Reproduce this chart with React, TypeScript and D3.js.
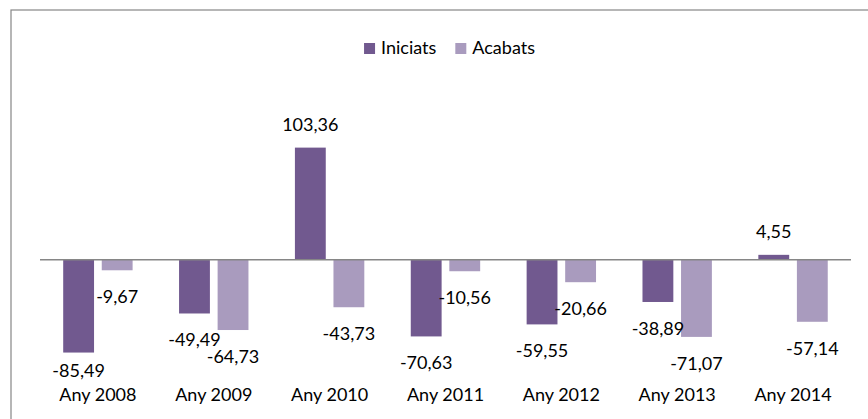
import * as d3 from "d3";
import React, { useEffect, useRef } from "react";

const years = ["Any 2008", "Any 2009", "Any 2010", "Any 2011", "Any 2012", "Any 2013", "Any 2014"];
const seriesNames = ["Iniciats", "Acabats"];
const iniciats = [-85.49, -49.49, 103.36, -70.63, -59.55, -38.89, 4.55];
const acabats = [-9.67, -64.73, -43.73, -10.56, -20.66, -71.07, -57.14];
const seriesColors = ["#71598F", "#A99BBE"];

interface Datum {
  year: string;
  series: string;
  value: number;
}

const App: React.FC = () => {
  const svgRef = useRef<SVGSVGElement>(null);

  useEffect(() => {
    const svg = d3.select(svgRef.current);
    svg.selectAll("*").remove();
    const font = "Lato, 'Open Sans', sans-serif";

    // 外枠
    svg.append("rect")
      .attr("x", 11).attr("y", 10)
      .attr("width", 900).attr("height", 450)
      .attr("fill", "#fff")
      .attr("stroke", "#868686")
      .attr("stroke-width", 1.2);

    const x0 = d3.scaleBand().domain(years).range([40, 851]);
    const x1 = d3.scaleBand().domain(seriesNames).range([23.2, 92.6]).paddingInner(0.2);
    const y = d3.scaleLinear().domain([150, -120]).range([97, 390]);
    const color = d3.scaleOrdinal<string>().domain(seriesNames).range(seriesColors);
    // hyphen minus + decimal comma
    const fmt = (v: number) => v.toFixed(2).replace(".", ",");

    const data: Datum[][] = years.map((yr, i) => [
      { year: yr, series: seriesNames[0], value: iniciats[i] },
      { year: yr, series: seriesNames[1], value: acabats[i] },
    ]);

    const groups = svg.append("g")
      .selectAll("g")
      .data(data)
      .enter()
      .append("g")
      .attr("transform", (d) => `translate(${x0(d[0].year)},0)`);

    groups.selectAll("rect")
      .data((d) => d)
      .enter()
      .append("rect")
      .attr("x", (d) => x1(d.series)!)
      .attr("y", (d) => y(Math.max(0, d.value)))
      .attr("width", x1.bandwidth())
      .attr("height", (d) => Math.abs(y(d.value) - y(0)))
      .attr("fill", (d) => color(d.series));

    // 0 line
    svg.append("line")
      .attr("x1", 40).attr("x2", 851)
      .attr("y1", y(0)).attr("y2", y(0))
      .attr("stroke", "#868686")
      .attr("stroke-width", 1.5);

    // data labels
    groups.selectAll("text")
      .data((d) => d)
      .enter()
      .append("text")
      .attr("x", (d) => x1(d.series)! + x1.bandwidth() / 2)
      .attr("y", (d) => d.value >= 0 ? y(d.value) - 17 : Math.min(y(d.value) + 33, 377))
      .attr("text-anchor", "middle")
      .style("font-family", font)
      .style("font-size", "18px")
      .style("fill", "#000")
      .text((d) => fmt(d.value));

    // category labels
    svg.append("g")
      .selectAll("text")
      .data(years)
      .enter()
      .append("text")
      .attr("x", (d) => x0(d)! + x0.bandwidth() / 2)
      .attr("y", 401)
      .attr("text-anchor", "middle")
      .style("font-family", font)
      .style("font-size", "18px")
      .style("fill", "#000")
      .text((d) => d);

    // legend
    const legend = svg.append("g");
    let cursor = 0;
    seriesNames.forEach((name) => {
      const item = legend.append("g").attr("transform", `translate(${cursor},0)`);
      item.append("rect")
        .attr("x", 0).attr("y", 43)
        .attr("width", 11).attr("height", 11)
        .attr("fill", color(name));
      const t = item.append("text")
        .attr("x", 17).attr("y", 54)
        .style("font-family", font)
        .style("font-size", "18px")
        .style("fill", "#000")
        .text(name);
      const w = (t.node() as SVGTextElement).getComputedTextLength();
      cursor += 17 + w + 19;
    });
    const total = cursor - 19;
    legend.attr("transform", `translate(${449.5 - total / 2},0)`);
  }, []);

  return (
    <svg
      ref={svgRef}
      width={868}
      height={419}
      style={{ position: "absolute", left: 0, top: 0, background: "#fff" }}
    />
  );
};

export default App;
